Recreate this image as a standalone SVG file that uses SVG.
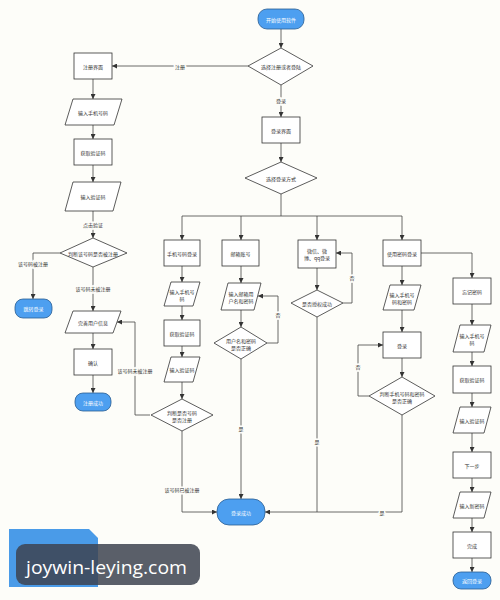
<svg xmlns="http://www.w3.org/2000/svg" width="500" height="600" viewBox="0 0 500 600">
<defs>
<marker id="a" markerUnits="userSpaceOnUse" markerWidth="5" markerHeight="5" refX="5" refY="2.5" orient="auto"><path d="M0,0 L5,2.5 L0,5 z" fill="#333"/></marker>
<style>
.box{fill:#fff;stroke:#333;stroke-width:0.8}
.term{fill:#4d9ff0;stroke:#2a5d92;stroke-width:0.8}
.t{font-family:"Noto Sans CJK SC","Noto Sans",sans-serif;font-size:5px;fill:#333;text-anchor:middle;dominant-baseline:central}
.tw{fill:#fff}
.ln{fill:none;stroke:#444;stroke-width:0.8;marker-end:url(#a)}
.ln0{fill:none;stroke:#444;stroke-width:0.8}
.lbl{font-family:"Noto Sans CJK SC","Noto Sans",sans-serif;font-size:5px;fill:#333;text-anchor:middle;dominant-baseline:central;stroke:#fdfdf9;stroke-width:3;paint-order:stroke}
</style>
</defs>
<rect width="500" height="600" fill="#fdfdf9"/>
<g id="connectors">
<path class="ln" d="M281,29 V48"/>
<path class="ln" d="M248,66 H112"/>
<path class="ln" d="M281,85 V117"/>
<path class="ln" d="M93,79 V99"/>
<path class="ln" d="M93,125 V139"/>
<path class="ln" d="M93,165 V182"/>
<path class="ln" d="M93,211 V238"/>
<path class="ln" d="M60,253 H33 V299"/>
<path class="ln" d="M93,267 V311"/>
<path class="ln" d="M93,333 V349"/>
<path class="ln" d="M93,375 V393"/>
<path class="ln" d="M281,143 V162"/>
<path class="ln0" d="M281,194 V216 M182,216 H402"/>
<path class="ln" d="M182,216 V240"/>
<path class="ln" d="M241,216 V240"/>
<path class="ln" d="M317,216 V240"/>
<path class="ln" d="M402,216 V240"/>
<path class="ln" d="M182,266 V282"/>
<path class="ln" d="M182,306 V320"/>
<path class="ln" d="M182,346 V357"/>
<path class="ln" d="M182,382 V399"/>
<path class="ln" d="M182,431 V512 H217"/>
<path class="ln" d="M150,415 H135 V322 H117"/>
<path class="ln" d="M241,266 V283"/>
<path class="ln" d="M241,310 V327"/>
<path class="ln" d="M241,359 V499"/>
<path class="ln" d="M267,343 H278 V296 H258"/>
<path class="ln" d="M317,268 V290"/>
<path class="ln" d="M317,317 V512 H265"/>
<path class="ln" d="M343,303 H352 V253 H336"/>
<path class="ln" d="M402,266 V285"/>
<path class="ln" d="M402,310 V332"/>
<path class="ln" d="M402,358 V377"/>
<path class="ln0" d="M402,415 V512 H317"/>
<path class="ln" d="M369,396 H358 V345 H383"/>
<path class="ln" d="M421,253 H472 V278"/>
<path class="ln" d="M472,304 V325"/>
<path class="ln" d="M472,352 V366"/>
<path class="ln" d="M472,393 V407"/>
<path class="ln" d="M472,433 V452"/>
<path class="ln" d="M472,478 V492"/>
<path class="ln" d="M472,518 V532"/>
<path class="ln" d="M472,558 V572"/>
<text class="lbl" x="180" y="66">注册</text>
<text class="lbl" x="281" y="100">登录</text>
<text class="lbl" x="93" y="224">点击验证</text>
<text class="lbl" x="33" y="263">该号码被注册</text>
<text class="lbl" x="93" y="288">该号码未被注册</text>
<text class="lbl" x="135" y="370">该号码未被注册</text>
<text class="lbl" x="182" y="489">该号码已被注册</text>
<text class="lbl" x="241" y="428">是</text>
<text class="lbl" x="278" y="314">否</text>
<text class="lbl" x="317" y="441">是</text>
<text class="lbl" x="352" y="277">否</text>
<text class="lbl" x="382" y="512">是</text>
<text class="lbl" x="358" y="366">否</text>
</g>
<g id="start"><rect class="term" x="258" y="9" width="46" height="20" rx="9"/><text class="t tw" x="281" y="19">开始使用软件</text></g>
<g id="choose"><polygon class="box" points="281,48 313,66 281,85 248,66"/><text class="t" x="281" y="66">选择注册或者登陆</text></g>
<g id="reg"><rect class="box" x="74" y="53" width="38" height="26"/><text class="t" x="93" y="66">注册界面</text></g>
<g id="regPhone"><polygon class="box" points="73,99 122,99 114,125 65,125"/><text class="t" x="93" y="112">输入手机号码</text></g>
<g id="regCode"><rect class="box" x="74" y="139" width="38" height="26"/><text class="t" x="93" y="152">获取验证码</text></g>
<g id="regInput"><polygon class="box" points="73,182 121,182 113,211 65,211"/><text class="t" x="93" y="196">输入验证码</text></g>
<g id="regCheck"><polygon class="box" points="93,238 127,253 93,267 60,253"/><text class="t" x="93" y="253">判断该号码是否被注册</text></g>
<g id="toLogin"><rect class="term" x="15" y="299" width="37" height="19" rx="8"/><text class="t tw" x="33.5" y="308.5">跳转登录</text></g>
<g id="regInfo"><polygon class="box" points="73,311 121,311 113,333 65,333"/><text class="t" x="93" y="322">完善用户信息</text></g>
<g id="regOk"><rect class="box" x="74" y="349" width="38" height="26"/><text class="t" x="93" y="362">确认</text></g>
<g id="regDone"><rect class="term" x="75" y="393" width="36" height="18" rx="8"/><text class="t tw" x="93" y="402">注册成功</text></g>
<g id="login"><rect class="box" x="262" y="117" width="38" height="26"/><text class="t" x="281" y="130">登录界面</text></g>
<g id="loginWay"><polygon class="box" points="281,162 317,178 281,194 245,178"/><text class="t" x="281" y="178">选择登录方式</text></g>
<g id="c1"><rect class="box" x="164" y="240" width="36" height="26"/><text class="t" x="182" y="253">手机号码登录</text></g>
<g id="c1p"><polygon class="box" points="171,282 200,282 193,306 164,306"/><text class="t" x="182" y="291">输入手机号</text><text class="t" x="182" y="298">码</text></g>
<g id="c1r"><rect class="box" x="164" y="320" width="36" height="26"/><text class="t" x="182" y="333">获取验证码</text></g>
<g id="c1p2"><polygon class="box" points="171,357 200,357 193,382 164,382"/><text class="t" x="182" y="369.5">输入验证码</text></g>
<g id="c1d"><polygon class="box" points="182,399 213,415 182,431 151,415"/><text class="t" x="182" y="412">判断是否号码</text><text class="t" x="182" y="419">是否注册</text></g>
<g id="c2"><rect class="box" x="222" y="240" width="37" height="26"/><text class="t" x="240.5" y="253">邮箱账号</text></g>
<g id="c2p"><polygon class="box" points="228,283 261,283 254,310 221,310"/><text class="t" x="241" y="293">输入邮箱用</text><text class="t" x="241" y="300">户名和密码</text></g>
<g id="c2d"><polygon class="box" points="241,327 267,343 241,359 214,343"/><text class="t" x="241" y="340">用户名和密码</text><text class="t" x="241" y="347">是否正确</text></g>
<g id="c3"><rect class="box" x="298" y="240" width="38" height="28"/><text class="t" x="317" y="250">微信、微</text><text class="t" x="317" y="257">博、qq登录</text></g>
<g id="c3d"><polygon class="box" points="317,290 343,303 317,317 291,303"/><text class="t" x="317" y="303">是否授权成功</text></g>
<g id="c4"><rect class="box" x="383" y="240" width="38" height="26"/><text class="t" x="402" y="253">使用密码登录</text></g>
<g id="c4p"><polygon class="box" points="390,285 421,285 414,310 383,310"/><text class="t" x="402" y="294">输入手机号</text><text class="t" x="402" y="301">码和密码</text></g>
<g id="c4r"><rect class="box" x="383" y="332" width="38" height="26"/><text class="t" x="402" y="345">登录</text></g>
<g id="c4d"><polygon class="box" points="402,377 435,396 402,415 369,396"/><text class="t" x="402" y="393">判断手机号码和密码</text><text class="t" x="402" y="400">是否正确</text></g>
<g id="c5"><rect class="box" x="453" y="278" width="38" height="26"/><text class="t" x="472" y="291">忘记密码</text></g>
<g id="c5p"><polygon class="box" points="460,325 491,325 484,352 453,352"/><text class="t" x="472" y="335">输入手机号</text><text class="t" x="472" y="342">码</text></g>
<g id="c5r"><rect class="box" x="453" y="366" width="38" height="27"/><text class="t" x="472" y="379.5">获取验证码</text></g>
<g id="c5p2"><polygon class="box" points="460,407 491,407 484,433 453,433"/><text class="t" x="472" y="420">输入验证码</text></g>
<g id="c5r2"><rect class="box" x="453" y="452" width="38" height="26"/><text class="t" x="472" y="465">下一步</text></g>
<g id="c5p3"><polygon class="box" points="460,492 491,492 484,518 453,518"/><text class="t" x="472" y="505">输入新密码</text></g>
<g id="c5r3"><rect class="box" x="453" y="532" width="38" height="26"/><text class="t" x="472" y="545">完成</text></g>
<g id="c5end"><rect class="term" x="453" y="572" width="38" height="17" rx="8"/><text class="t tw" x="472" y="580.5">返回登录</text></g>
<g id="loginDone"><rect class="term" x="217" y="499" width="48" height="26" rx="12"/><text class="t tw" x="241" y="512">登录成功</text></g>
<g id="note"><path d="M9,529 H89 L98,538 V587 H9 Z" fill="#4a9be8"/></g>
<g id="watermark"><rect x="16" y="544" width="184" height="41" rx="9" fill="#3d4350" opacity="0.85"/><text x="26" y="574" font-family="Open Sans, Noto Sans, sans-serif" font-size="19" fill="#fff" textLength="161" lengthAdjust="spacingAndGlyphs">joywin-leying.com</text></g>
</svg>
